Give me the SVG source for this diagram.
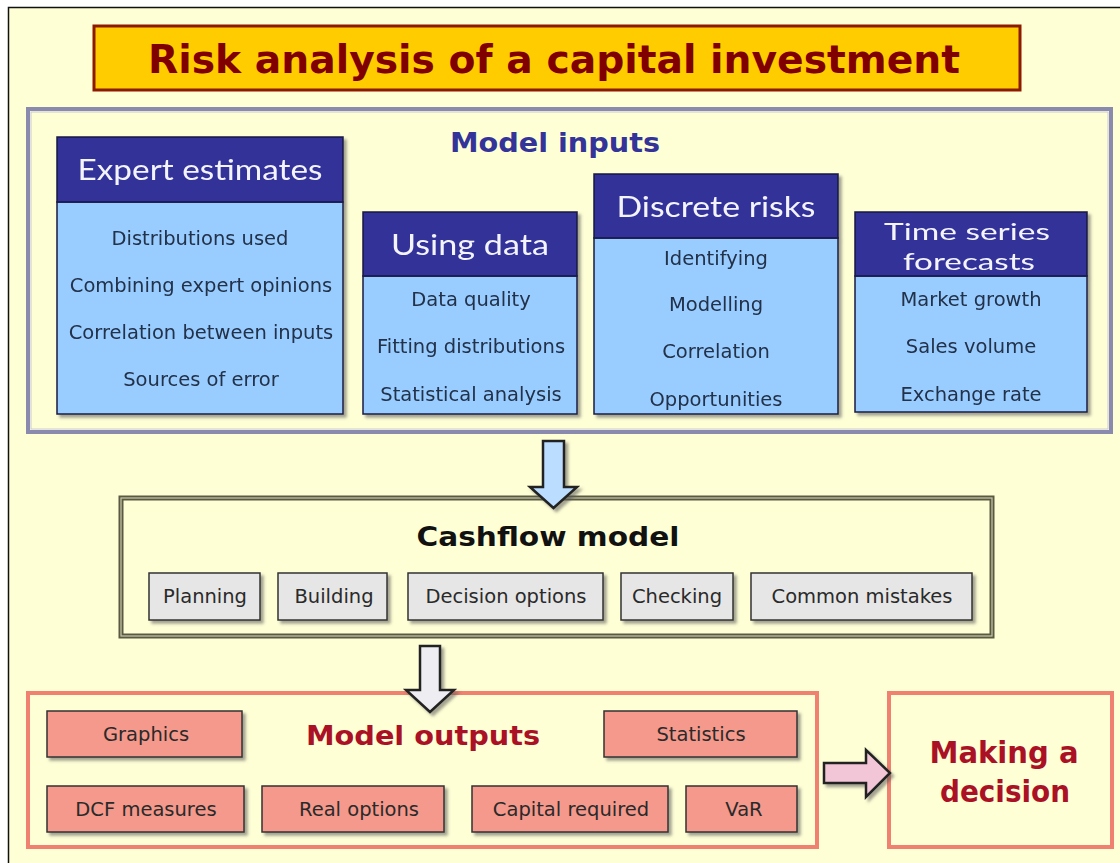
<svg xmlns="http://www.w3.org/2000/svg" width="1120" height="863" viewBox="0 0 1120 863">
<defs>
<filter id="sh" x="-10%" y="-10%" width="130%" height="130%">
<feDropShadow dx="3" dy="3" stdDeviation="1.5" flood-color="#555" flood-opacity="0.55"/>
</filter>
<style>
.hdr{fill:#333399;stroke:#1a1a44;stroke-width:1.5}
.bdy{fill:#99CCFF;stroke:#1a1a44;stroke-width:1.5}
.ht{font-family:Lato,"DejaVu Sans",sans-serif;font-size:28px;fill:#F4F4FF;text-anchor:middle}
.ht2{font-family:Lato,"DejaVu Sans",sans-serif;font-size:23px;fill:#F4F4FF;text-anchor:middle}
.it{font-family:"DejaVu Sans",sans-serif;font-size:19.5px;fill:#223048;text-anchor:middle}
.gb{fill:#E6E6E6;stroke:#333;stroke-width:1.5}
.pb{fill:#F4998C;stroke:#333;stroke-width:1.5}
.bt{font-family:"DejaVu Sans",sans-serif;font-size:19.5px;fill:#2a2a2a;text-anchor:middle}
.big{font-family:"DejaVu Sans",sans-serif;font-weight:bold;font-size:27px;text-anchor:middle}
.big30{font-family:"DejaVu Sans",sans-serif;font-weight:bold;font-size:30px;text-anchor:middle}
.arr{stroke:#222;stroke-width:2.5;stroke-linejoin:miter}
</style>
</defs>
<rect x="0" y="0" width="1120" height="863" fill="#FFFFFF"/>
<rect x="8" y="7" width="1112" height="856" fill="#FFFFD6"/>
<path d="M8.5,863 V7.5 H1120" fill="none" stroke="#111" stroke-width="1.5"/>

<g id="title">
<rect x="94" y="26" width="926" height="64" fill="#FFCC00" stroke="#8B1A00" stroke-width="3"/>
<text x="554" y="73" font-family="'DejaVu Sans',sans-serif" font-weight="bold" font-size="39" fill="#800000" text-anchor="middle" textLength="812" lengthAdjust="spacingAndGlyphs">Risk analysis of a capital investment</text>
</g>

<g id="model-inputs">
<rect x="28" y="109" width="1083" height="323" fill="#FFFFD6" stroke="#8A8AAE" stroke-width="4"/>
<rect x="31" y="112" width="1077" height="317" fill="none" stroke="#C8C8DA" stroke-width="1"/>
<text x="555" y="152" class="big" fill="#333399" textLength="210" lengthAdjust="spacingAndGlyphs">Model inputs</text>
</g>

<g id="expert-estimates" filter="url(#sh)">
<rect x="57" y="202" width="286" height="212" class="bdy"/>
<rect x="57" y="137" width="286" height="65" class="hdr"/>
<text x="200" y="180" class="ht" textLength="245" lengthAdjust="spacingAndGlyphs">Expert estimates</text>
<text x="200" y="245" class="it">Distributions used</text>
<text x="201" y="292" class="it">Combining expert opinions</text>
<text x="201" y="339" class="it">Correlation between inputs</text>
<text x="201" y="386" class="it">Sources of error</text>
</g>

<g id="using-data" filter="url(#sh)">
<rect x="363" y="276" width="214" height="138" class="bdy"/>
<rect x="363" y="212" width="214" height="64" class="hdr"/>
<text x="470" y="255" class="ht" textLength="158" lengthAdjust="spacingAndGlyphs">Using data</text>
<text x="471" y="306" class="it">Data quality</text>
<text x="471" y="353" class="it">Fitting distributions</text>
<text x="471" y="401" class="it">Statistical analysis</text>
</g>

<g id="discrete-risks" filter="url(#sh)">
<rect x="594" y="238" width="244" height="176" class="bdy"/>
<rect x="594" y="174" width="244" height="64" class="hdr"/>
<text x="716" y="217" class="ht" textLength="199" lengthAdjust="spacingAndGlyphs">Discrete risks</text>
<text x="716" y="265" class="it">Identifying</text>
<text x="716" y="311" class="it">Modelling</text>
<text x="716" y="358" class="it">Correlation</text>
<text x="716" y="406" class="it">Opportunities</text>
</g>

<g id="time-series" filter="url(#sh)">
<rect x="855" y="276" width="232" height="136" class="bdy"/>
<rect x="855" y="212" width="232" height="64" class="hdr"/>
<text x="967" y="240" class="ht2" textLength="166" lengthAdjust="spacingAndGlyphs">Time series</text>
<text x="969" y="270" class="ht2" textLength="132" lengthAdjust="spacingAndGlyphs">forecasts</text>
<text x="971" y="306" class="it">Market growth</text>
<text x="971" y="353" class="it">Sales volume</text>
<text x="971" y="401" class="it">Exchange rate</text>
</g>

<g id="cashflow-model">
<rect x="121" y="498" width="871" height="138" fill="#FFFFD6" stroke="#5A5A44" stroke-width="5"/>
<rect x="121" y="498" width="871" height="138" fill="none" stroke="#C9C9A6" stroke-width="1.2"/>
<text x="548" y="546" class="big" fill="#111" textLength="263" lengthAdjust="spacingAndGlyphs">Cashflow model</text>
<g filter="url(#sh)">
<rect x="149" y="573" width="111" height="47" class="gb"/>
<rect x="278" y="573" width="109" height="47" class="gb"/>
<rect x="408" y="573" width="195" height="47" class="gb"/>
<rect x="621" y="573" width="112" height="47" class="gb"/>
<rect x="751" y="573" width="221" height="47" class="gb"/>
</g>
<text x="205" y="603" class="bt">Planning</text>
<text x="334" y="603" class="bt">Building</text>
<text x="506" y="603" class="bt">Decision options</text>
<text x="677" y="603" class="bt">Checking</text>
<text x="862" y="603" class="bt">Common mistakes</text>
</g>

<g id="model-outputs">
<rect x="28" y="693" width="789" height="154" fill="#FFFFD6" stroke="#F08070" stroke-width="4"/>
<text x="423" y="745" class="big" fill="#AA1125" textLength="234" lengthAdjust="spacingAndGlyphs">Model outputs</text>
<g filter="url(#sh)">
<rect x="47" y="711" width="195" height="46" class="pb"/>
<rect x="604" y="711" width="193" height="46" class="pb"/>
<rect x="47" y="786" width="197" height="46" class="pb"/>
<rect x="262" y="786" width="182" height="46" class="pb"/>
<rect x="472" y="786" width="196" height="46" class="pb"/>
<rect x="686" y="786" width="111" height="46" class="pb"/>
</g>
<text x="146" y="741" class="bt">Graphics</text>
<text x="701" y="741" class="bt">Statistics</text>
<text x="146" y="816" class="bt">DCF measures</text>
<text x="359" y="816" class="bt">Real options</text>
<text x="571" y="816" class="bt">Capital required</text>
<text x="744" y="816" class="bt">VaR</text>
</g>

<g id="making-decision">
<rect x="889" y="693" width="223" height="154" fill="#FFFFD6" stroke="#F08070" stroke-width="4"/>
<text x="1004" y="763" class="big30" fill="#AA1125" textLength="149" lengthAdjust="spacingAndGlyphs">Making a</text>
<text x="1005" y="802" class="big30" fill="#AA1125" textLength="130" lengthAdjust="spacingAndGlyphs">decision</text>
</g>

<g id="connectors" filter="url(#sh)">
<polygon class="arr" fill="#BBDDFF" points="543,441 564,441 564,487 577,487 553.5,508 530,487 543,487"/>
<polygon class="arr" fill="#EEEEF2" points="420,646 440,646 440,690 454,690 430,712 406,690 420,690"/>
<polygon class="arr" fill="#F2C6D6" points="824,763 866,763 866,750 890,773 866,797 866,783 824,783"/>
</g>
</svg>
